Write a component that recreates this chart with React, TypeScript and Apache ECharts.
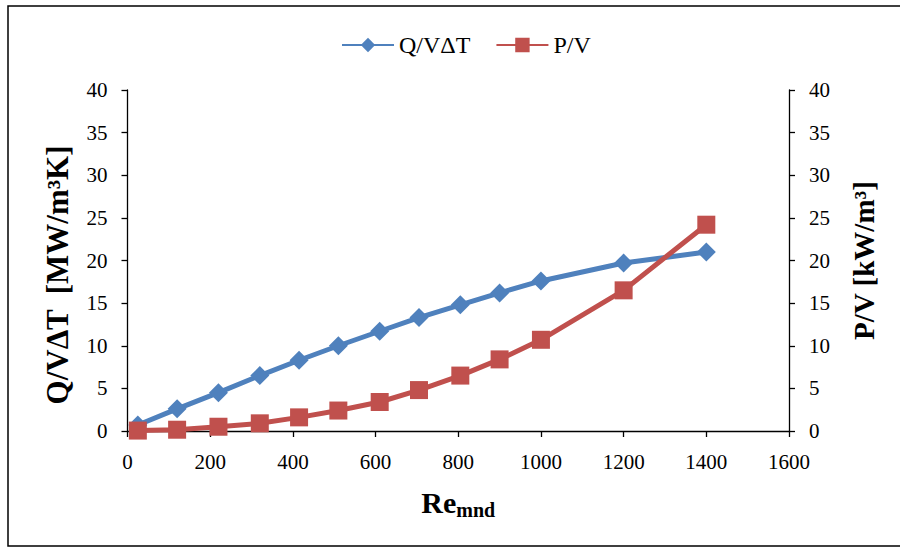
import React, { useEffect, useRef } from "react";
import * as echarts from "echarts";

const reValues = [25, 120, 220, 320, 415, 510, 610, 705, 805, 900, 1000, 1200, 1400];
const qvdt = [0.7, 2.6, 4.5, 6.5, 8.3, 10.0, 11.7, 13.3, 14.8, 16.2, 17.6, 19.7, 21.0];
const pv = [0.05, 0.15, 0.5, 0.9, 1.6, 2.4, 3.4, 4.8, 6.5, 8.4, 10.7, 16.5, 24.2];

const leftTitle = "Q/VΔT  [MW/m³K]";
const rightTitle = "P/V [kW/m³]";

const FONT = "Liberation Serif";

export default function App() {
  const ref = useRef<HTMLDivElement>(null);
  useEffect(() => {
    if (!ref.current) return;
    const chart = echarts.init(ref.current, null, { renderer: "svg" });
    const axisLine = { show: true, lineStyle: { color: "#000", width: 1.3 } };
    const axisTick = { show: true, inside: false, length: 6, lineStyle: { color: "#000", width: 1.3 } };
    const axisLabel = {
      color: "#000",
      fontFamily: FONT,
      fontSize: 21,
      formatter: (v: number) => String(v),
    };
    chart.setOption({
      animation: false,
      backgroundColor: "#fff",
      graphic: [
        {
          type: "rect",
          shape: { x: 8, y: 6, width: 910, height: 540 },
          style: { fill: "none", stroke: "#000", lineWidth: 1.5 },
          silent: true,
        },
        {
          type: "text",
          x: 57,
          y: 275,
          rotation: Math.PI / 2,
          style: {
            text: leftTitle,
            fontFamily: FONT,
            fontSize: 31,
            fontWeight: "bold",
            fill: "#000",
            align: "center",
            verticalAlign: "middle",
          },
          silent: true,
        },
      ],
      legend: {
        top: 28,
        left: 336,
        itemWidth: 52,
        itemHeight: 18,
        itemGap: 25,
        textStyle: { color: "#000", fontFamily: FONT, fontSize: 24 },
        data: ["Q/VΔT", "P/V"],
      },
      grid: { left: 127.5, right: 111, top: 90, bottom: 117, containLabel: false },
      xAxis: {
        type: "value",
        min: 0,
        max: 1600,
        interval: 200,
        axisLine,
        axisTick,
        axisLabel: { ...axisLabel, margin: 20 },
        splitLine: { show: false },
        name: "{a|Re}{s|mnd}",
        nameLocation: "middle",
        nameGap: 54,
        nameTextStyle: {
          rich: {
            a: { fontFamily: FONT, fontSize: 30, fontWeight: "bold", color: "#000", lineHeight: 34 },
            s: { fontFamily: FONT, fontSize: 20, fontWeight: "bold", color: "#000", lineHeight: 34, padding: [16, 0, 0, 0] },
          },
        },
      },
      yAxis: [
        {
          type: "value",
          min: 0,
          max: 40,
          interval: 5,
          position: "left",
          axisLine,
          axisTick,
          axisLabel: { ...axisLabel, margin: 20 },
          splitLine: { show: false },
        },
        {
          type: "value",
          min: 0,
          max: 40,
          interval: 5,
          position: "right",
          axisLine,
          axisTick,
          axisLabel: { ...axisLabel, margin: 20 },
          splitLine: { show: false },
          name: rightTitle,
          nameLocation: "middle",
          nameGap: 60,
          nameRotate: 90,
          nameTextStyle: { fontFamily: FONT, fontSize: 29, fontWeight: "bold", color: "#000" },
        },
      ],
      series: [
        {
          name: "Q/VΔT",
          type: "line",
          yAxisIndex: 0,
          data: reValues.map((x, i) => [x, qvdt[i]]),
          symbol: "diamond",
          symbolSize: 19,
          lineStyle: { color: "#4F81BD", width: 5 },
          itemStyle: { color: "#4F81BD" },
        },
        {
          name: "P/V",
          type: "line",
          yAxisIndex: 1,
          data: reValues.map((x, i) => [x, pv[i]]),
          symbol: "rect",
          symbolSize: 18,
          lineStyle: { color: "#C0504D", width: 5 },
          itemStyle: { color: "#C0504D" },
        },
      ],
    });
    return () => chart.dispose();
  }, []);
  return (
    <div
      ref={ref}
      style={{ position: "fixed", left: 0, top: 0, width: 900, height: 548, background: "#fff" }}
    />
  );
}
